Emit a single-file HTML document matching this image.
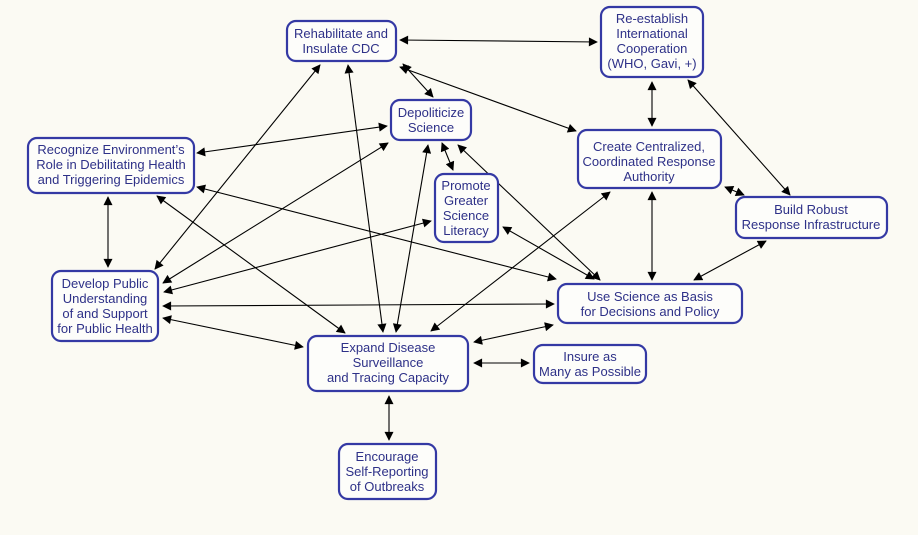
<!DOCTYPE html>
<html><head><meta charset="utf-8"><style>
html,body{margin:0;padding:0;background:#fbfaf3;}
svg{display:block}
text{font-family:"Liberation Sans",sans-serif;font-size:13px;fill:#2e3188;text-anchor:middle}
rect{fill:#fdfdfa;stroke:#3439a4;stroke-width:2.2}
line{stroke:#000;stroke-width:1.1;marker-start:url(#a);marker-end:url(#a)}
</style></head><body>
<svg width="918" height="535" viewBox="0 0 918 535">
<defs><marker id="a" viewBox="0 0 10 10" refX="9" refY="5" markerWidth="11" markerHeight="9" markerUnits="userSpaceOnUse" orient="auto-start-reverse"><path d="M0,0L10,5L0,10z" fill="#000"/></marker></defs>
<g>
<line x1="400" y1="40" x2="597" y2="42"/>
<line x1="652" y1="82" x2="652" y2="126"/>
<line x1="688" y1="80" x2="790" y2="195"/>
<line x1="403" y1="64" x2="433" y2="97"/>
<line x1="400" y1="67" x2="576" y2="131"/>
<line x1="197" y1="153" x2="387" y2="126"/>
<line x1="442" y1="143" x2="453" y2="170"/>
<line x1="108" y1="197" x2="108" y2="267"/>
<line x1="725" y1="187" x2="744" y2="195"/>
<line x1="652" y1="192" x2="652" y2="280"/>
<line x1="766" y1="241" x2="694" y2="280"/>
<line x1="155" y1="269" x2="320" y2="65"/>
<line x1="348" y1="65" x2="383" y2="332"/>
<line x1="163" y1="283" x2="388" y2="143"/>
<line x1="428" y1="145" x2="396" y2="332"/>
<line x1="458" y1="145" x2="600" y2="280"/>
<line x1="197" y1="187" x2="556" y2="279"/>
<line x1="157" y1="196" x2="345" y2="333"/>
<line x1="431" y1="221" x2="164" y2="292"/>
<line x1="503" y1="227" x2="594" y2="279"/>
<line x1="163" y1="306" x2="554" y2="304"/>
<line x1="163" y1="318" x2="303" y2="347"/>
<line x1="610" y1="192" x2="431" y2="331"/>
<line x1="474" y1="342" x2="553" y2="325"/>
<line x1="474" y1="363" x2="529" y2="363"/>
<line x1="389" y1="396" x2="389" y2="440"/>
</g>
<rect x="287" y="21" width="109" height="40" rx="9"/>
<text x="341" y="38">Rehabilitate and</text><text x="341" y="53">Insulate CDC</text>
<rect x="601" y="7" width="102" height="70" rx="9"/>
<text x="652" y="23">Re-establish</text><text x="652" y="38">International</text><text x="652" y="53">Cooperation</text><text x="652" y="68">(WHO, Gavi, +)</text>
<rect x="391" y="100" width="80" height="40" rx="9"/>
<text x="431" y="117">Depoliticize</text><text x="431" y="132">Science</text>
<rect x="28" y="138" width="166" height="55" rx="9"/>
<text x="111" y="154">Recognize Environment’s</text><text x="111" y="169">Role in Debilitating Health</text><text x="111" y="184">and Triggering Epidemics</text>
<rect x="578" y="130" width="143" height="58" rx="9"/>
<text x="649" y="151">Create Centralized,</text><text x="649" y="166">Coordinated Response</text><text x="649" y="181">Authority</text>
<rect x="435" y="174" width="63" height="68" rx="9"/>
<text x="466" y="190">Promote</text><text x="466" y="205">Greater</text><text x="466" y="220">Science</text><text x="466" y="235">Literacy</text>
<rect x="736" y="197" width="151" height="41" rx="9"/>
<text x="811" y="214">Build Robust</text><text x="811" y="229">Response Infrastructure</text>
<rect x="52" y="271" width="106" height="70" rx="9"/>
<text x="105" y="288">Develop Public</text><text x="105" y="303">Understanding</text><text x="105" y="318">of and  Support</text><text x="105" y="333">for Public Health</text>
<rect x="558" y="284" width="184" height="39" rx="9"/>
<text x="650" y="301">Use Science as Basis</text><text x="650" y="316">for Decisions and Policy</text>
<rect x="308" y="336" width="160" height="55" rx="9"/>
<text x="388" y="352">Expand Disease</text><text x="388" y="367">Surveillance</text><text x="388" y="382">and Tracing Capacity</text>
<rect x="534" y="345" width="112" height="38" rx="9"/>
<text x="590" y="361">Insure as</text><text x="590" y="376">Many as Possible</text>
<rect x="339" y="444" width="97" height="55" rx="9"/>
<text x="387" y="461">Encourage</text><text x="387" y="476">Self-Reporting</text><text x="387" y="491">of Outbreaks</text>
</svg>
</body></html>
